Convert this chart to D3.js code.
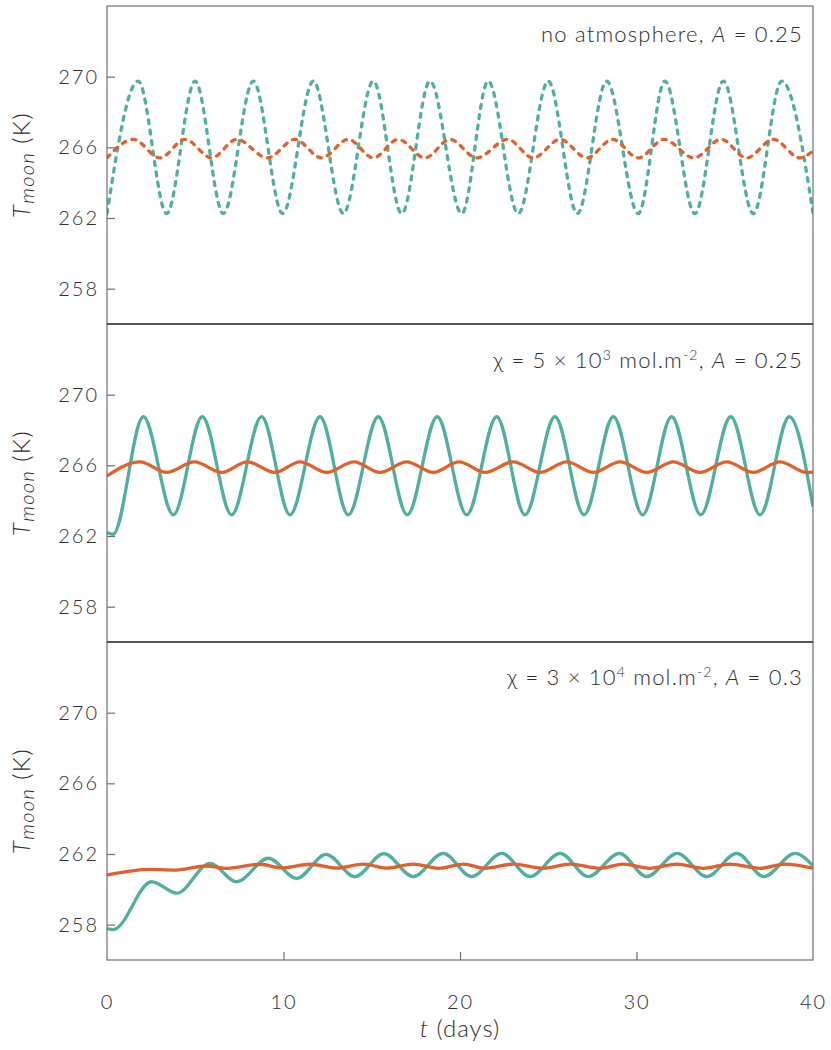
<!DOCTYPE html>
<html><head><meta charset="utf-8">
<script src="https://cdn.jsdelivr.net/npm/d3@7"></script>
<style>
html,body{margin:0;padding:0;background:#fff;}
svg{display:block;font-family:Lato,"Noto Sans",sans-serif;font-weight:300;}
</style></head>
<body>
<svg id="chart" width="831" height="1050"></svg>
<script>
// ---- data ----
const xTicks = [0, 10, 20, 30, 40];
const yTicks = [258, 262, 266, 270];
const yDomain = [256, 274];
const xDomain = [0, 40];

// Panel 1: no atmosphere (dashed)
const p1Teal = [[0,262.25],[1.77,269.75],[3.38,262.25],[4.99,269.75],[6.59,262.25],[8.29,269.75],[9.95,262.25],[11.69,269.75],[13.39,262.25],[15.09,269.75],[16.70,262.25],[18.30,269.75],[20.10,262.25],[21.60,269.75],[23.30,262.25],[25.00,269.75],[26.65,262.25],[28.31,269.75],[30.10,262.25],[31.61,269.75],[33.31,262.25],[34.92,269.75],[36.62,262.25],[38.23,269.75],[40,262.3]];
const p1Orange = [[0,265.4],[1.49,266.45],[3.00,265.4],[4.42,266.45],[5.93,265.4],[7.35,266.45],[9.10,265.4],[10.65,266.45],[12.16,265.4],[13.67,266.45],[15.09,265.4],[16.50,266.45],[18.02,265.4],[19.43,266.45],[20.95,265.4],[22.70,266.45],[24.15,265.4],[25.67,266.45],[27.18,265.4],[28.65,266.45],[30.10,265.4],[31.56,266.45],[33.25,265.4],[34.80,266.45],[36.24,265.4],[37.75,266.45],[39.26,265.4],[40,265.8]];

// Panel 2: chi = 5e3
const p2Teal = [[0,262.2],[0.35,262.1],[2.06,268.75],[3.76,263.2],[5.40,268.75],[7.06,263.2],[8.76,268.75],[10.37,263.2],[12.07,268.75],[13.67,263.2],[15.37,268.75],[17.01,263.2],[18.71,268.75],[20.38,263.2],[22.08,268.75],[23.68,263.2],[25.38,268.75],[27.03,263.2],[28.69,268.75],[30.35,263.2],[31.99,268.75],[33.64,263.2],[35.34,268.75],[37.00,263.2],[38.66,268.75],[40,263.65]];
const p2Orange = [[0,265.4],[1.87,266.2],[3.38,265.6],[4.95,266.2],[6.50,265.6],[7.95,266.2],[9.52,265.6],[10.93,266.2],[12.45,265.6],[13.99,266.2],[15.47,265.6],[16.98,266.2],[18.49,265.6],[19.95,266.2],[21.42,265.6],[23.02,266.2],[24.53,265.6],[26.05,266.2],[27.55,265.6],[29.07,266.2],[30.58,265.6],[32.09,266.2],[33.60,265.6],[35.11,266.2],[36.62,265.6],[38.13,266.2],[39.64,265.6],[40,265.62]];

// Panel 3: chi = 3e4
const p3Teal = [[0,257.78],[0.35,257.72],[2.53,260.43],[3.95,259.78],[5.84,261.47],[7.35,260.43],[9.14,261.76],[10.75,260.62],[12.41,261.98],[14.05,260.72],[15.69,262.02],[17.35,260.72],[19.05,262.04],[20.66,260.72],[22.36,262.04],[23.97,260.72],[25.67,262.04],[27.27,260.72],[29.03,262.04],[30.58,260.72],[32.31,262.04],[33.98,260.72],[35.68,262.04],[37.22,260.72],[38.98,262.04],[40,261.33]];
const p3Orange = [[0,260.81],[2.44,261.13],[3.76,261.09],[5.65,261.32],[6.69,261.19],[8.67,261.42],[9.90,261.21],[11.50,261.42],[13.00,261.20],[14.52,261.43],[15.85,261.20],[17.35,261.43],[18.80,261.19],[20.20,261.43],[21.40,261.19],[23.02,261.43],[24.72,261.19],[26.23,261.43],[27.93,261.19],[29.25,261.43],[30.76,261.19],[32.28,261.43],[33.78,261.19],[35.30,261.43],[37.00,261.19],[38.41,261.43],[40,261.2]];

const panelSeries = [[p1Teal, p1Orange], [p2Teal, p2Orange], [p3Teal, p3Orange]];
const panelDashed = [true, false, false];
const seriesColors = ["#50af9e", "#e2602c"];

// ---- layout ----
const left = 107, right = 813, top0 = 6, panelH = 318;
const svg = d3.select("#chart");
const x = d3.scaleLinear().domain(xDomain).range([left, right]);
const textColor = "#2e2e2e";
const axisColor = "#6e6e6e";
const fontFam = "Lato, 'Noto Sans', sans-serif";

const titles = [
  [{t:"no atmosphere, "},{t:"A",i:true},{t:" = 0.25"}],
  [{t:"χ = 5 × 10"},{t:"3",sup:true},{t:" mol.m"},{t:"-2",sup:true},{t:", "},{t:"A",i:true},{t:" = 0.25"}],
  [{t:"χ = 3 × 10"},{t:"4",sup:true},{t:" mol.m"},{t:"-2",sup:true},{t:", "},{t:"A",i:true},{t:" = 0.3"}]
];
const titleOffsets = [36, 44, 43];

panelSeries.forEach((series, p) => {
  const pt = top0 + p * panelH;
  const y = d3.scaleLinear().domain(yDomain).range([pt + panelH, pt]);
  const g = svg.append("g");

  const clipId = "clip" + p;
  svg.append("clipPath").attr("id", clipId).append("rect")
    .attr("x", left).attr("y", pt).attr("width", right - left).attr("height", panelH);

  const line = d3.line().x(d => x(d[0])).y(d => y(d[1])).curve(d3.curveMonotoneX);
  series.forEach((s, i) => {
    g.append("path").datum(s)
      .attr("d", line)
      .attr("fill", "none")
      .attr("stroke", seriesColors[i])
      .attr("stroke-width", 3.3)
      .attr("stroke-linecap", panelDashed[p] ? "round" : "butt")
      .attr("stroke-dasharray", panelDashed[p] ? "4,6.5" : null)
      .attr("clip-path", `url(#${clipId})`);
  });

  // frame
  g.append("rect").attr("x", left).attr("y", pt).attr("width", right - left).attr("height", panelH)
    .attr("fill", "none").attr("stroke", axisColor).attr("stroke-width", 1.2);

  // y axis ticks (inward) and labels
  const yAxis = d3.axisLeft(y).tickValues(yTicks).tickSize(-8).tickPadding(8).tickFormat(d3.format("d"));
  const ya = g.append("g").attr("transform", `translate(${left},0)`).call(yAxis);
  ya.select(".domain").remove();
  ya.selectAll(".tick line").attr("stroke", axisColor).attr("stroke-width", 1.2);
  ya.selectAll(".tick text").attr("fill", textColor).style("font-size", "20px")
    .style("letter-spacing", "2px").style("font-family", fontFam).style("font-weight", 300);

  // y label
  const cy = pt + panelH / 2;
  const yl = g.append("text").attr("transform", `translate(30,${cy}) rotate(-90)`)
    .attr("text-anchor", "middle").attr("fill", textColor).style("font-size", "24px")
    .style("letter-spacing", "1.4px");
  yl.append("tspan").text("T").style("font-style", "italic");
  yl.append("tspan").text("moon").style("font-style", "italic").style("font-size", "20px").attr("dy", 4);
  yl.append("tspan").text(" (K)").attr("dy", -4);

  // panel title
  const tt = g.append("text").attr("x", right - 10).attr("y", pt + titleOffsets[p])
    .attr("text-anchor", "end").attr("fill", textColor).style("font-size", "22px").style("letter-spacing", "1.2px");
  titles[p].forEach(seg => {
    const ts = tt.append("tspan").text(seg.t);
    if (seg.i) ts.style("font-style", "italic");
    if (seg.sup) ts.style("font-size", "14px").attr("baseline-shift", "super");
  });

  // x axis on bottom panel
  if (p === panelSeries.length - 1) {
    const xAxis = d3.axisBottom(x).tickValues(xTicks).tickSize(-8).tickPadding(35).tickFormat(d3.format("d"));
    const xa = g.append("g").attr("transform", `translate(0,${pt + panelH})`).call(xAxis);
    xa.select(".domain").remove();
    xa.selectAll(".tick line").attr("stroke", axisColor).attr("stroke-width", 1.2)
      .attr("opacity", d => (d === xDomain[0] || d === xDomain[1]) ? 0 : 1);
    xa.selectAll(".tick text").attr("fill", textColor).style("font-size", "20px")
      .style("letter-spacing", "2px").style("font-family", fontFam).style("font-weight", 300);
  }
});

// separators
for (let p = 1; p < panelSeries.length; p++) {
  svg.append("line").attr("x1", left).attr("x2", right)
    .attr("y1", top0 + p * panelH).attr("y2", top0 + p * panelH)
    .attr("stroke", "#555").attr("stroke-width", 2);
}

// x label
const xl = svg.append("text").attr("x", (left + right) / 2).attr("y", 1037)
  .attr("text-anchor", "middle").attr("fill", textColor).style("font-size", "24px").style("letter-spacing", "1px");
xl.append("tspan").text("t").style("font-style", "italic");
xl.append("tspan").text(" (days)");
</script>
</body></html>
